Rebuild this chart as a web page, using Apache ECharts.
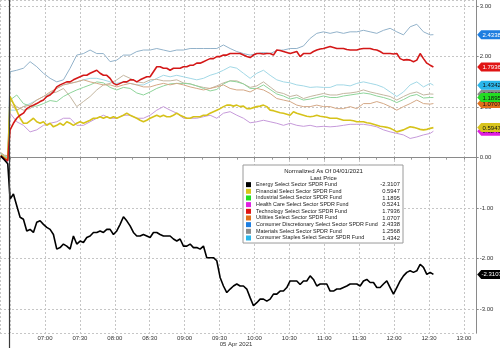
<!DOCTYPE html>
<html><head><meta charset="utf-8">
<script src="https://cdn.jsdelivr.net/npm/echarts@6.0.0/dist/echarts.min.js"></script>
<style>html,body{margin:0;padding:0;background:#fff}#c{width:500px;height:348px}</style>
</head><body><div id="c"></div>
<script>
// ---- categories / names ----
const seriesNames = [
  'Energy Select Sector SPDR Fund',
  'Financial Select Sector SPDR Fund',
  'Industrial Select Sector SPDR Fund',
  'Health Care Select Sector SPDR Fund',
  'Technology Select Sector SPDR Fund',
  'Utilities Select Sector SPDR Fund',
  'Consumer Discretionary Select Sector SPDR Fund',
  'Materials Select Sector SPDR Fund',
  'Consumer Staples Select Sector SPDR Fund'
];
const lastPrice = [-2.3107, 0.5947, 1.1895, 0.5241, 1.7936, 1.0707, 2.4338, 1.2568, 1.4342];
const xTickLabels = ['07:00','07:30','08:00','08:30','09:00','09:30','10:00','10:30','11:00','11:30','12:00','12:30','13:00'];
const yTickLabels = ['-3.00','-2.00','-1.00','0.00','1.00','2.00','3.00'];
const titleText = 'Normalized As Of 04/01/2021';
const subText = 'Last Price';
const dateText = '05 Apr 2021';

// ---- time sampling (minutes after midnight) ----
const axisMinMin = 381.33, axisMaxMin = 791;
const preTimes = [382, 385, 388];
const sessionStart = 389.5;
const openMin = 390, closeMin = 753.8;
const fineStep = 2.865, coarseStep = 5.73;

// ---- series values ----
const energyPre = [0.03, -0.04, -0.12];
const energy = [-0.82,-0.72,-0.95,-1.18,-1.22,-1.45,-1.42,-1.48,-1.28,-1.25,-1.32,-1.38,-1.42,-1.52,-1.81,-1.78,-1.71,-1.75,-1.81,-1.55,-1.71,-1.65,-1.68,-1.58,-1.55,-1.48,-1.48,-1.45,-1.48,-1.42,-1.42,-1.52,-1.45,-1.32,-1.17,-1.25,-1.35,-1.48,-1.55,-1.55,-1.52,-1.55,-1.58,-1.48,-1.48,-1.52,-1.55,-1.55,-1.55,-1.61,-1.65,-1.61,-1.75,-1.75,-1.71,-1.78,-1.78,-1.81,-1.75,-1.98,-1.98,-1.98,-2.04,-2.37,-2.54,-2.67,-2.60,-2.54,-2.50,-2.54,-2.54,-2.60,-2.77,
  -2.93,-2.87,-2.80,-2.80,-2.84,-2.80,-2.70,-2.70,-2.64,-2.64,-2.57,-2.44,-2.44,-2.44,-2.51,-2.44,-2.44,-2.34,-2.41,-2.54,-2.50,-2.50,-2.50,-2.64,-2.64,-2.60,-2.60,-2.57,-2.54,-2.50,-2.50,-2.50,-2.54,-2.44,-2.41,-2.47,-2.47,-2.57,-2.57,-2.50,-2.44,-2.57,-2.70,-2.57,-2.44,-2.34,-2.27,-2.24,-2.27,-2.24,-2.11,-2.17,-2.31,-2.27];
const financialPre = [0.05, 0.0, -0.05];
const financial = [1.21,1.07,0.93,0.78,0.68,0.68,0.73,0.78,0.71,0.68,0.71,0.64,0.68,0.61,0.64,0.68,0.64,0.71,0.68,0.64,0.68,0.71,0.68,0.71,0.74,0.78,0.78,0.81,0.78,0.81,0.78,0.81,0.78,0.81,0.84,0.88,0.84,0.81,0.78,0.74,0.71,0.74,0.78,0.81,0.84,0.81,0.84,0.81,0.81,0.84,0.88,0.84,0.81,0.78,0.78,0.81,0.81,0.81,0.84,0.84,0.88,0.91,0.94,0.97,1.01,1.04,1.04,1.02,1.04,1.01,1.02,0.97,0.97,
  0.99,1.01,1.02,1.04,1.01,0.94,0.93,0.91,0.89,0.88,0.86,0.84,0.91,0.88,0.86,0.84,0.82,0.81,0.82,0.84,0.82,0.81,0.80,0.78,0.78,0.78,0.76,0.74,0.74,0.74,0.73,0.71,0.71,0.71,0.69,0.68,0.66,0.64,0.62,0.61,0.60,0.58,0.55,0.51,0.53,0.55,0.58,0.61,0.60,0.58,0.56,0.55,0.56,0.58];
const techPre = [0.04, -0.02, -0.06];
const tech = [0.55,0.68,0.78,0.84,0.88,0.97,1.01,1.04,1.07,1.11,1.14,1.21,1.24,1.30,1.40,1.44,1.47,1.50,1.50,1.54,1.57,1.60,1.63,1.63,1.67,1.70,1.73,1.67,1.63,1.63,1.57,1.47,1.44,1.47,1.50,1.50,1.54,1.54,1.50,1.54,1.57,1.60,1.60,1.70,1.80,1.80,1.77,1.77,1.73,1.77,1.77,1.77,1.80,1.80,1.83,1.83,1.87,1.87,1.90,1.93,1.96,1.96,2.00,2.00,2.03,2.03,2.06,2.06,2.06,2.06,2.03,2.00,1.98,
  2.03,2.06,2.06,2.05,2.06,2.06,2.03,2.13,2.12,2.10,2.08,2.06,2.08,2.10,2.00,2.06,2.06,2.06,2.10,2.13,2.15,2.16,2.18,2.20,2.18,2.16,2.16,2.16,2.14,2.13,2.13,2.13,2.15,2.16,2.16,2.16,2.14,2.13,2.10,2.06,2.06,2.06,2.05,2.06,1.96,1.93,1.94,1.93,1.90,1.93,2.06,1.96,1.87,1.83];
const industrialPre = [0.08, 0.03, 0.0];
const industrial = [1.14,1.24,1.07,1.02,1.02,1.07,1.13,1.11,1.21,1.28,1.34,1.39,1.44,1.50,1.48,1.39,1.34,1.39,1.37,1.28,1.24,1.30,1.37,1.42,1.46,1.47,1.47,1.46,1.42,1.37,1.32,1.35,1.46,1.52,1.50,1.46,1.37,
  1.37,1.44,1.35,1.26,1.22,1.16,1.19,1.14,1.16,1.19,1.22,1.19,1.19,1.22,1.24,1.26,1.28,1.26,1.22,1.19,1.15,1.09,1.15,1.22,1.25,1.18,1.19];
const healthPre = [0.02, -0.05, -0.08];
const health = [0.88,0.71,0.64,0.51,0.55,0.64,0.68,0.71,0.78,0.78,0.64,0.64,0.71,0.78,0.84,0.78,0.78,0.84,0.84,0.78,0.78,0.84,0.94,1.01,0.94,0.88,0.78,0.78,0.78,0.81,0.84,0.78,0.88,0.91,0.84,0.78,0.69,
  0.71,0.74,0.71,0.68,0.64,0.68,0.64,0.62,0.64,0.61,0.62,0.61,0.62,0.64,0.66,0.66,0.66,0.64,0.61,0.55,0.51,0.48,0.45,0.38,0.41,0.45,0.48];
const utilitiesPre = [0.10, 0.05, 0.04];
const utilities = [1.07,0.94,1.01,1.04,1.14,1.21,1.30,1.37,1.44,1.47,1.50,1.54,1.50,1.47,1.44,1.44,1.40,1.44,1.47,1.44,1.40,1.40,1.44,1.47,1.44,1.47,1.44,1.40,1.37,1.34,1.37,1.40,1.44,1.37,1.34,1.34,1.30,
  1.37,1.34,1.27,1.17,1.14,1.11,1.04,1.01,1.01,1.04,1.01,1.01,0.97,0.97,1.01,0.97,1.07,1.07,1.11,1.07,1.01,0.94,1.01,1.07,1.14,1.07,1.06];
const consDiscPre = [0.06, 0.0, -0.03];
const consDisc = [1.70,1.73,1.77,1.90,1.80,1.67,1.57,1.50,1.54,1.77,2.03,2.06,2.13,2.06,2.06,1.90,1.93,2.03,2.03,2.10,2.13,2.13,2.16,2.13,2.10,2.13,2.13,2.16,2.16,2.16,2.16,2.16,2.23,2.16,2.10,2.06,2.03,
  2.06,2.08,2.06,2.12,2.13,2.16,2.16,2.21,2.36,2.46,2.49,2.46,2.49,2.46,2.49,2.49,2.52,2.49,2.46,2.52,2.56,2.49,2.43,2.59,2.64,2.49,2.43];
const materialsPre = [0.05, 0.02, -0.02];
const materials = [1.14,1.01,0.94,0.97,1.07,1.14,1.27,1.30,1.37,1.21,1.01,1.11,1.21,1.34,1.44,1.47,1.54,1.63,1.57,1.50,1.48,1.54,1.55,1.52,1.52,1.54,1.48,1.46,1.42,1.39,1.37,1.42,1.48,1.52,1.52,1.46,1.39,
  1.42,1.50,1.40,1.30,1.27,1.21,1.24,1.17,1.21,1.24,1.27,1.24,1.24,1.27,1.28,1.30,1.34,1.30,1.27,1.24,1.21,1.14,1.21,1.27,1.30,1.24,1.26];
const staplesPre = [0.09, 0.04, 0.02];
const staples = [0.94,0.94,1.01,1.07,1.14,1.21,1.27,1.37,1.44,1.47,1.50,1.54,1.57,1.57,1.54,1.50,1.47,1.50,1.47,1.44,1.44,1.50,1.57,1.63,1.60,1.63,1.60,1.57,1.54,1.57,1.63,1.67,1.73,1.80,1.77,1.67,1.57,
  1.67,1.73,1.63,1.54,1.50,1.48,1.44,1.42,1.39,1.40,1.39,1.39,1.44,1.44,1.42,1.47,1.50,1.47,1.44,1.39,1.30,1.21,1.30,1.44,1.50,1.40,1.47];

// ---- styles ----
const seriesVals = [energy, financial, industrial, health, tech, utilities, consDisc, materials, staples];
const seriesPre = [energyPre, financialPre, industrialPre, healthPre, techPre, utilitiesPre, consDiscPre, materialsPre, staplesPre];
const seriesStep = [fineStep, fineStep, coarseStep, coarseStep, fineStep, coarseStep, coarseStep, coarseStep, coarseStep];
const lineColors = ['#000000','#d6c21a','#8ed49a','#c69ada','#d41818','#d4a886','#92b2ca','#c4b6a0','#a2d8e6'];
const lineWidths = [1.6, 1.6, 1, 1, 1.6, 1, 1, 1, 1];
const legendColors = ['#000000','#d8c41c','#22dd22','#e01ee0','#e01414','#e0701c','#1e7ee0','#8c8c8c','#2ab6ea'];
const tagTextColors = ['#ffffff','#111111','#111111','#111111','#ffffff','#111111','#ffffff','#111111','#111111'];
const drawOrder = [6, 8, 7, 2, 5, 3, 1, 4, 0];
const tagOrder = [3, 7, 5, 2, 8, 1, 4, 6, 0];
const FONT = '"Liberation Sans", Arial, sans-serif';

function buildData(i) {
  const out = seriesPre[i].map((v, k) => [preTimes[k], v]);
  seriesVals[i].forEach((v, k) => out.push([openMin + k * seriesStep[i], v]));
  out.push([closeMin, lastPrice[i]]);
  return out;
}
function hhmm(m) {
  const h = Math.floor(m / 60), mm = Math.round(m % 60);
  return String(h).padStart(2, '0') + ':' + String(mm).padStart(2, '0');
}

const chart = echarts.init(document.getElementById('c'), null, {renderer: 'canvas'});

const lineSeries = drawOrder.map(i => ({
  name: seriesNames[i],
  type: 'line',
  data: buildData(i),
  showSymbol: false,
  symbol: 'none',
  smooth: false,
  lineStyle: {color: lineColors[i], width: lineWidths[i]},
  itemStyle: {color: legendColors[i]},
  emphasis: {disabled: true},
  z: 3
}));

const sepSeries = {
  type: 'custom', clip: false, silent: true, z: 4,
  data: [[sessionStart, 0]],
  renderItem(params, api) {
    const x = api.coord([api.value(0), api.value(1)])[0];
    return {type: 'line', shape: {x1: x, y1: params.coordSys.y, x2: x, y2: api.getHeight()},
      style: {stroke: '#3a3a3a', lineWidth: 1.2}};
  }
};

const tagSeries = {
  type: 'custom', clip: false, silent: true, z: 20,
  data: tagOrder.map(i => [closeMin, lastPrice[i], i]),
  renderItem(params, api) {
    const i = api.value(2);
    const y = api.coord([api.value(0), api.value(1)])[1];
    const x0 = params.coordSys.x + params.coordSys.width + 0.5;
    const h = 9;
    return {type: 'group', children: [
      {type: 'polygon', shape: {points: [[x0, y], [x0 + 4, y - h / 2], [x0 + 30, y - h / 2], [x0 + 30, y + h / 2], [x0 + 4, y + h / 2]]},
        style: {fill: legendColors[i]}},
      {type: 'text', style: {text: lastPrice[i].toFixed(4), x: x0 + 14.5, y: y + 0.3, align: 'center', verticalAlign: 'middle',
        fontSize: 6, fontFamily: FONT, fill: tagTextColors[i]}}
    ]};
  }
};

chart.setOption({
  animation: false,
  backgroundColor: '#ffffff',
  textStyle: {fontFamily: FONT},
  title: [
    {text: titleText, subtext: subText, left: 323.5, top: 168, textAlign: 'center', padding: 0, itemGap: 1.5,
      textStyle: {fontSize: 6, fontWeight: 'normal', color: '#222', fontFamily: FONT},
      subtextStyle: {fontSize: 6, color: '#222', fontFamily: FONT}},
    {text: dateText, left: 236, top: 341.5, textAlign: 'center', padding: 0,
      textStyle: {fontSize: 6, fontWeight: 'normal', color: '#333', fontFamily: FONT}}
  ],
  legend: {
    orient: 'vertical', left: 243, top: 165, padding: [16.3, 3, 1.7, 3],
    backgroundColor: '#ffffff', borderColor: '#9a9a9a', borderWidth: 1,
    itemWidth: 5, itemHeight: 5, itemGap: 0, icon: 'rect', selectedMode: false,
    data: seriesNames.map((n, i) => ({name: n, icon: 'rect', itemStyle: {color: legendColors[i], borderWidth: 0}})),
    formatter: name => {
      const i = seriesNames.indexOf(name);
      return '{n|' + name + '}{v|' + lastPrice[i].toFixed(4) + '}';
    },
    textStyle: {fontSize: 5.5, color: '#222', fontFamily: FONT, lineHeight: 6.67,
      rich: {n: {width: 119, fontSize: 5.4, lineHeight: 6.67, fontFamily: FONT, color: '#222'},
             v: {width: 25, align: 'right', fontSize: 5.8, lineHeight: 6.67, fontFamily: FONT, color: '#222'}}}
  },
  grid: {left: 0, right: 23.3, top: 0, bottom: 15, containLabel: false},
  xAxis: {
    type: 'value', min: axisMinMin, max: axisMaxMin, minInterval: 30, maxInterval: 30,
    axisLine: {show: true, lineStyle: {color: '#8a8a8a', width: 1}},
    axisTick: {show: true, length: 2, lineStyle: {color: '#8a8a8a'}},
    minorTick: {show: true, splitNumber: 2, length: 2, lineStyle: {color: '#9a9a9a'}},
    splitLine: {show: true, lineStyle: {color: '#c6c6c6', type: [2, 2], width: 1}},
    axisLabel: {fontSize: 6, color: '#333', margin: 2.5, fontFamily: FONT, showMinLabel: false, showMaxLabel: false,
      formatter: v => { const s = hhmm(v); return xTickLabels.indexOf(s) >= 0 && Math.abs(v % 30) < 1e-6 ? s : ''; }}
  },
  yAxis: {
    type: 'value', position: 'right', min: -3.47, max: 3.12, minInterval: 1, maxInterval: 1,
    axisLine: {show: true, lineStyle: {color: '#8a8a8a', width: 1}},
    axisTick: {show: true, length: 2, lineStyle: {color: '#8a8a8a'}},
    splitLine: {show: true, lineStyle: {color: '#c6c6c6', type: [2, 2], width: 1}},
    axisLabel: {fontSize: 6, color: '#333', margin: 3, fontFamily: FONT, showMinLabel: false, showMaxLabel: false,
      formatter: v => { const s = v.toFixed(2); return yTickLabels.indexOf(s) >= 0 && Math.abs(v - Math.round(v)) < 1e-6 ? s : ''; }}
  },
  series: lineSeries.concat([sepSeries, tagSeries])
});
</script></body></html>
